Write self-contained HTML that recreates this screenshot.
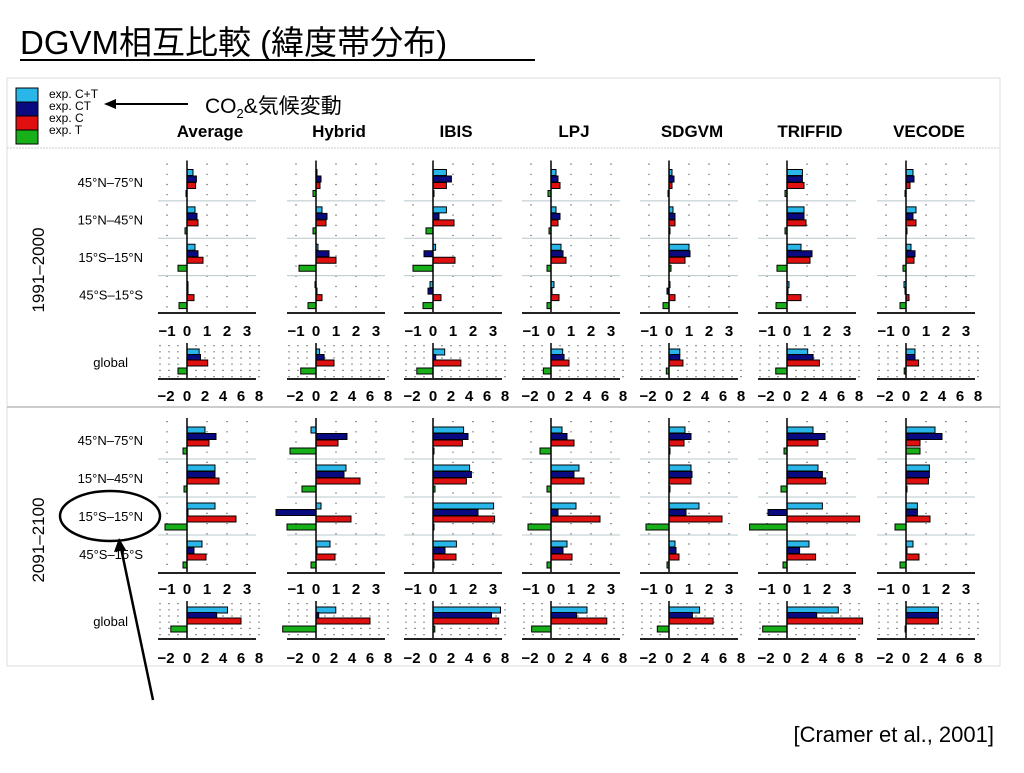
<!DOCTYPE html>
<html><head><meta charset="utf-8"><style>
body{margin:0;background:#fff;width:1024px;height:768px;overflow:hidden}
svg text{font-family:"Liberation Sans","Noto Sans CJK JP",sans-serif}
</style></head><body>
<svg id="chart" width="1024" height="768" xmlns="http://www.w3.org/2000/svg">
<text x="20" y="54" font-size="33" fill="#000">DGVM相互比較 (緯度帯分布)</text>
<line x1="20" y1="60" x2="535" y2="60" stroke="#000" stroke-width="2"/>
<rect x="7" y="78" width="993" height="588" fill="none" stroke="#ddd" stroke-width="1"/>
<line x1="7" y1="148" x2="1000" y2="148" stroke="#ccc" stroke-dasharray="2,1"/>
<line x1="7" y1="407" x2="1000" y2="407" stroke="#bbb" stroke-width="1.5"/>
<g>
<rect x="16" y="88" width="22" height="14" fill="#29b6e8" stroke="#000"/>
<rect x="16" y="102" width="22" height="14" fill="#0a0a80" stroke="#000"/>
<rect x="16" y="116" width="22" height="14" fill="#e01010" stroke="#000"/>
<rect x="16" y="130" width="22" height="14" fill="#18b018" stroke="#000"/>
<text x="49" y="98" font-size="12">exp. C+T</text>
<text x="49" y="110" font-size="12">exp. CT</text>
<text x="49" y="122" font-size="12">exp. C</text>
<text x="49" y="134" font-size="12">exp. T</text>
</g>
<line x1="188" y1="104" x2="112" y2="104" stroke="#000" stroke-width="2"/>
<polygon points="104,104 116,99 116,109" fill="#000"/>
<text x="205" y="113" font-size="21">CO<tspan font-size="13" dy="5">2</tspan><tspan dy="-5">&amp;気候変動</tspan></text>
<text transform="translate(44,270) rotate(-90)" text-anchor="middle" font-size="17">1991–2000</text>
<text transform="translate(44,540) rotate(-90)" text-anchor="middle" font-size="17">2091–2100</text>
<ellipse cx="110" cy="516" rx="50" ry="25" fill="none" stroke="#000" stroke-width="2.5"/>
<line x1="153" y1="700" x2="121" y2="548" stroke="#000" stroke-width="2.5"/>
<polygon points="119,538 114,552 126,550" fill="#000"/>
<text x="994" y="742" text-anchor="end" font-size="22">[Cramer et al., 2001]</text>
<g id="plots"></g>
</svg>
<script>
const models = ["Average","Hybrid","IBIS","LPJ","SDGVM","TRIFFID","VECODE"];
const regions = ["45°N–75°N","15°N–45°N","15°S–15°N","45°S–15°S"];
const seriesNames = ["exp. C+T","exp. CT","exp. C","exp. T"];
const regTicks = [-1,0,1,2,3];
const globTicks = [-2,0,2,4,6,8];
// regional values [model][region][series C+T, CT, C, T]
const reg1991 = [
 [[0.3,0.47,0.43,-0.05],[0.4,0.5,0.55,-0.1],[0.4,0.55,0.8,-0.45],[0,0,0.35,-0.4]],
 [[0.05,0.25,0.2,-0.15],[0.3,0.55,0.5,-0.15],[0.1,0.65,1.0,-0.85],[-0.05,0,0.3,-0.4]],
 [[0.67,0.92,0.67,0],[0.67,0.3,1.05,-0.35],[0.13,-0.45,1.1,-1.0],[-0.15,-0.25,0.4,-0.5]],
 [[0.25,0.35,0.45,-0.15],[0.25,0.45,0.35,-0.1],[0.5,0.6,0.75,-0.2],[0.15,0,0.4,-0.2]],
 [[0.15,0.25,0.15,-0.05],[0.2,0.3,0.3,0],[1.0,1.05,0.8,0.1],[0,-0.1,0.3,-0.3]],
 [[0.77,0.77,0.85,-0.1],[0.85,0.85,0.95,-0.1],[0.7,1.25,1.15,-0.5],[0.1,0,0.7,-0.55]],
 [[0.35,0.4,0.2,-0.05],[0.5,0.35,0.5,0],[0.25,0.45,0.4,-0.15],[-0.1,-0.05,0.15,-0.3]]
];
const glob1991 = [[1.35,1.5,2.3,-1.0],[0.4,0.9,2.0,-1.7],[1.3,0.3,3.1,-1.8],[1.3,1.45,2.0,-0.85],[1.2,1.2,1.55,-0.3],[2.3,2.9,3.6,-1.25],[1.0,1.0,1.4,-0.2]];
const reg2091 = [
 [[0.9,1.45,1.1,-0.2],[1.4,1.4,1.6,-0.15],[1.4,0,2.45,-1.1],[0.75,0.35,0.95,-0.2]],
 [[-0.25,1.55,1.1,-1.3],[1.5,1.4,2.2,-0.7],[0.25,-2.0,1.75,-1.45],[0.7,0,0.95,-0.25]],
 [[1.53,1.75,1.47,0],[1.83,1.92,1.67,0.1],[3.03,2.25,3.08,0.02],[1.17,0.6,1.15,0]],
 [[0.55,0.8,1.15,-0.55],[1.4,1.15,1.65,-0.2],[1.25,0.35,2.45,-1.15],[0.8,0.6,1.05,-0.2]],
 [[0.8,1.1,0.75,0.05],[1.1,1.15,1.1,0],[1.5,0.85,2.65,-1.15],[0.3,0.35,0.5,-0.1]],
 [[1.3,1.9,1.55,-0.15],[1.55,1.77,1.93,-0.3],[1.77,-0.95,3.63,-1.87],[1.1,0.63,1.43,-0.2]],
 [[1.45,1.8,0.7,0.7],[1.17,1.17,1.12,0.02],[0.57,0.57,1.2,-0.55],[0.35,0.05,0.65,-0.3]]
];
const glob2091 = [[4.5,3.3,6.0,-1.8],[2.2,0.3,6.0,-3.7],[7.5,6.5,7.3,0.2],[4.0,2.85,6.2,-2.15],[3.4,2.6,4.9,-1.3],[5.7,3.3,8.4,-2.7],[3.6,3.6,3.6,-0.1]];

const colors = ["#29b6e8","#0a0a80","#e01010","#18b018"];
const zeroX = [187,316,433,551,669,787,906];
const NS = "http://www.w3.org/2000/svg";
const root = document.getElementById('plots');
function mk(tag, attrs, parent){const e=document.createElementNS(NS,tag);for(const k in attrs)e.setAttribute(k,attrs[k]);(parent||root).appendChild(e);return e;}
function xReg(m,v){return zeroX[m]+v*20;}
function xGlob(m,v){return zeroX[m]+v*9;}
const sections=[
 {reg:reg1991,glob:glob1991,top:163.5,axis:313,gTop:345,gAxis:379,tickY:336,gTickY:401,name:'1991'},
 {reg:reg2091,glob:glob2091,top:421,axis:573,gTop:603,gAxis:639,tickY:594,gTickY:663,name:'2091'}
];
const offs=[9,15.5,22,30];
const gOffs=[7,12.5,18,26];
models.forEach((mname,m)=>{
  const t=mk('text',{x:zeroX[m]+23,y:137,'text-anchor':'middle','font-size':17,'font-weight':'bold'});
  t.textContent=mname;
  
  
});
sections.forEach(sec=>{
  const gh=(sec.axis-sec.top)/4;
  regions.forEach((r,i)=>{
    const t=mk('text',{x:143,y:sec.top+gh*i+gh/2+5,'text-anchor':'end','font-size':13});
    t.textContent=r;
    
    
  });
  const gl=mk('text',{x:128,y:(sec.gTop+sec.gAxis)/2+5,'text-anchor':'end','font-size':13});
  gl.textContent='global';
  
  
  models.forEach((mname,m)=>{
    const g=mk('g',{});
    
    
    const x0=xReg(m,-1.45), x1=xReg(m,3.45);
    regTicks.forEach(v=>{ if(v!==0) mk('line',{x1:xReg(m,v),x2:xReg(m,v),y1:sec.top,y2:sec.axis,stroke:'#555','stroke-width':1.2,'stroke-dasharray':'1.2,9'},g);});
    for(let i=1;i<4;i++) mk('line',{x1:x0,x2:x1,y1:sec.top+gh*i,y2:sec.top+gh*i,stroke:'#b8c8cc','stroke-width':1},g);
    sec.reg[m].forEach((vals,ri)=>{
      vals.forEach((v,si)=>{
        const a=xReg(m,0),b=xReg(m,v);
        const bar=mk('rect',{x:Math.min(a,b),y:sec.top+gh*ri+offs[si]-3,width:Math.max(Math.abs(b-a),1),height:6,fill:colors[si],stroke:'#000','stroke-width':1},g);
        
        
      });
    });
    mk('line',{x1:xReg(m,0),x2:xReg(m,0),y1:sec.top-3,y2:sec.axis,stroke:'#000','stroke-width':1.5},g);
    mk('line',{x1:x0,x2:x1,y1:sec.axis,y2:sec.axis,stroke:'#222','stroke-width':2},g);
    regTicks.forEach(v=>{const t=mk('text',{x:xReg(m,v),y:sec.tickY,'text-anchor':'middle','font-size':15,'font-weight':'bold'},g);t.textContent=v<0?'−'+(-v):String(v);});
    for(let v=-3;v<=8;v++){ if(v!==0) mk('line',{x1:xGlob(m,v),x2:xGlob(m,v),y1:sec.gTop,y2:sec.gAxis,stroke:'#555','stroke-width':1.2,'stroke-dasharray':'1.2,5'},g);}
    sec.glob[m].forEach((v,si)=>{
      const a=xGlob(m,0),b=xGlob(m,v);
      const bar=mk('rect',{x:Math.min(a,b),y:sec.gTop+gOffs[si]-3,width:Math.max(Math.abs(b-a),1),height:6,fill:colors[si],stroke:'#000','stroke-width':1},g);
      
      
    });
    mk('line',{x1:xGlob(m,0),x2:xGlob(m,0),y1:sec.gTop-2,y2:sec.gAxis,stroke:'#000','stroke-width':1.5},g);
    mk('line',{x1:x0,x2:x1,y1:sec.gAxis,y2:sec.gAxis,stroke:'#222','stroke-width':2},g);
    globTicks.forEach(v=>{const t=mk('text',{x:xGlob(m,v)+(v===-2?-3:0),y:sec.gTickY,'text-anchor':'middle','font-size':15,'font-weight':'bold'},g);t.textContent=v<0?'−'+(-v):String(v);});
  });
});
</script>
</body></html>
